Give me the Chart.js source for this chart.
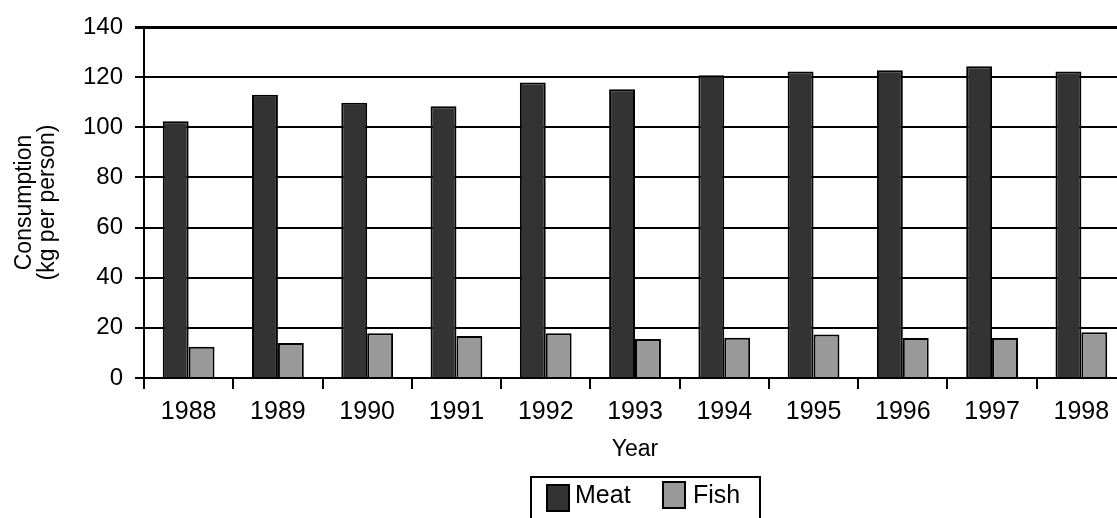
<!DOCTYPE html>
<html>
<head>
<meta charset="utf-8">
<script src="https://cdn.jsdelivr.net/npm/chart.js@4/dist/chart.umd.min.js"></script>
<style>
  html, body { margin: 0; padding: 0; background: #fff; overflow: hidden; }
  #wrap { width: 1140px; height: 518px; position: relative; }
</style>
</head>
<body>
<div id="wrap"><canvas id="chart"></canvas></div>
<script>
// Dados do gráfico
const years = ['1988', '1989', '1990', '1991', '1992', '1993', '1994', '1995', '1996', '1997', '1998'];
const meat = [102.4, 113.0, 109.8, 108.4, 117.9, 115.2, 120.8, 122.3, 122.7, 124.3, 122.3];
const fish = [12.5, 14.0, 17.8, 16.8, 17.8, 15.6, 16.1, 17.4, 16.0, 16.0, 18.2];
const yTicks = [0, 20, 40, 60, 80, 100, 120, 140];

const FONT = "'Liberation Sans', Arial, sans-serif";

// Legenda desenhada à mão, com caixa em volta
const boxLegend = {
    id: 'boxLegend',
    afterDraw(chart) {
        const ctx = chart.ctx;
        const ds = chart.data.datasets;
        ctx.save();
        ctx.lineWidth = 2;
        ctx.strokeStyle = '#000';
        ctx.strokeRect(531, 477, 229, 60);

        const items = [
            { x: 547, y: 485, tx: 575 },
            { x: 663, y: 482, tx: 693 }
        ];
        ctx.font = '25px ' + FONT;
        ctx.textBaseline = 'alphabetic';
        ds.forEach((d, i) => {
            const it = items[i];
            ctx.fillStyle = d.backgroundColor;
            ctx.fillRect(it.x, it.y, 22, 26);
            ctx.strokeRect(it.x, it.y, 22, 26);
            ctx.fillStyle = '#000';
            ctx.fillText(d.label, it.tx, 503);
        });
        ctx.restore();
    }
};

const ctx = document.getElementById('chart').getContext('2d');
new Chart(ctx, {
    type: 'bar',
    data: {
        labels: years,
        datasets: [
            {
                label: 'Meat',
                data: meat,
                backgroundColor: '#333333',
                borderColor: '#000000',
                borderWidth: 2
            },
            {
                label: 'Fish',
                data: fish,
                backgroundColor: '#999999',
                borderColor: '#000000',
                borderWidth: 2
            }
        ]
    },
    options: {
        responsive: true,
        maintainAspectRatio: false,
        animation: false,
        layout: { padding: { top: 27, right: 14, bottom: 50, left: 0 } },
        datasets: {
            bar: { categoryPercentage: 0.58, barPercentage: 1.0 }
        },
        plugins: {
            legend: { display: false },
            tooltip: { enabled: false }
        },
        scales: {
            x: {
                afterFit(scale) { scale.height = 90; },
                grid: {
                    drawOnChartArea: false,
                    drawTicks: true,
                    tickLength: 11,
                    color: '#000',
                    lineWidth: 2
                },
                border: { color: '#000', width: 2 },
                ticks: {
                    color: '#000',
                    font: { family: FONT, size: 25 },
                    padding: 8,
                    maxRotation: 0,
                    autoSkip: false
                },
                title: {
                    display: true,
                    text: 'Year',
                    color: '#000',
                    font: { family: FONT, size: 23 },
                    padding: { top: 0, bottom: 5 }
                }
            },
            y: {
                min: 0,
                max: 140,
                afterFit(scale) { scale.width = 144; },
                afterBuildTicks(scale) {
                    scale.ticks = yTicks.map(v => ({ value: v }));
                },
                grid: {
                    color: '#000',
                    lineWidth: c => (c.tick && c.tick.value === 140 ? 3 : 2),
                    tickLength: 9
                },
                border: { color: '#000', width: 2 },
                ticks: {
                    color: '#000',
                    font: { family: FONT, size: 24 },
                    padding: 12
                },
                title: {
                    display: true,
                    text: ['Consumption', '(kg per person)'],
                    color: '#000',
                    font: { family: FONT, size: 23, lineHeight: 1.0 },
                    padding: { top: 13, bottom: 0 }
                }
            }
        }
    },
    plugins: [boxLegend]
});
</script>
</body>
</html>
